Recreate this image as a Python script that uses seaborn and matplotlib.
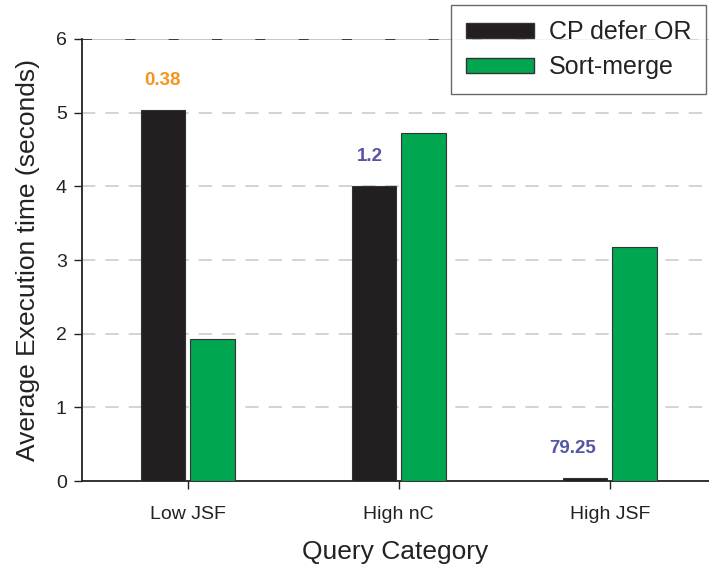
import matplotlib
matplotlib.use("Agg")
import matplotlib.pyplot as plt
from matplotlib.patches import Patch
import seaborn as sns
import pandas as pd

categories = ["Low JSF", "High nC", "High JSF"]
series = ["CP defer OR", "Sort-merge"]
cp_defer_or = [5.04, 4.01, 0.04]
sort_merge = [1.93, 4.72, 3.17]
speedup_labels = ["0.38", "1.2", "79.25"]
label_colors = ["#f7941d", "#5555a5", "#5555a5"]
yticks = [0, 1, 2, 3, 4, 5, 6]

sns.set_theme(style="white")
plt.rcParams['font.family'] = ['Liberation Sans', 'DejaVu Sans']

df = pd.DataFrame({
    "Query Category": categories * 2,
    "time": cp_defer_or + sort_merge,
    "series": [series[0]] * 3 + [series[1]] * 3,
})

fig = plt.figure(figsize=(7.09, 5.71), dpi=100)
ax = fig.add_axes([0.1157, 0.1576, 0.8843, 0.7741])

sns.barplot(data=df, x="Query Category", y="time", hue="series",
            palette=["#231f20", "#00a650"], saturation=1, width=0.468, gap=0.1,
            edgecolor="#333333", linewidth=0.8, ax=ax, legend=False, zorder=3)

ax.set_xlim(-0.5, 2.47)
ax.set_ylim(0, 6)
ax.set_yticks(yticks)
ax.tick_params(axis="y", labelsize=14, length=6, width=1, color="#222222",
               labelcolor="#222222", direction="out", left=True, pad=5)
ax.tick_params(axis="x", labelsize=14, length=6, width=1, color="#222222",
               labelcolor="#222222", direction="out", bottom=True, pad=12)
for y in yticks[1:-1]:
    ax.axhline(y, color="#cccccc", linestyle=(0, (8, 6)), linewidth=1.2, zorder=1)
ax.axhline(6, color="#bbbbbb", linewidth=1.2, zorder=1)
ax.axhline(6, color="#222222", linestyle=(0, (6, 20)), linewidth=1.2, zorder=1)

for s in ["top", "right"]:
    ax.spines[s].set_visible(False)
for s in ["left", "bottom"]:
    ax.spines[s].set_color("#222222")
    ax.spines[s].set_linewidth(1.3)

ax.set_ylabel("Average Execution time (seconds)", fontsize=19, labelpad=11,
              color="#222222")
ax.set_xlabel("Query Category", fontsize=19, labelpad=12, color="#222222")

x_shift_pts = [0, -3, -9]
for i, (lab, col) in enumerate(zip(speedup_labels, label_colors)):
    ax.annotate(lab, xy=(i - 0.117, cp_defer_or[i]), xytext=(x_shift_pts[i], 15),
                textcoords="offset points", ha="center", va="bottom",
                color=col, fontsize=13.5, fontweight="bold")

handles = [Patch(facecolor="#231f20", edgecolor="#333333"),
           Patch(facecolor="#00a650", edgecolor="#333333")]
leg = ax.legend(handles, series, loc="upper left", bbox_to_anchor=(0.5885, 1.077),
                fontsize=18, frameon=True, fancybox=False, edgecolor="#444444",
                handlelength=2.7, handleheight=0.55, borderpad=0.6,
                labelspacing=0.45, handletextpad=0.6, borderaxespad=0)
leg.get_frame().set_linewidth(1.0)
for t in leg.get_texts():
    t.set_color("#222222")

fig.savefig("out.png", dpi=100)
